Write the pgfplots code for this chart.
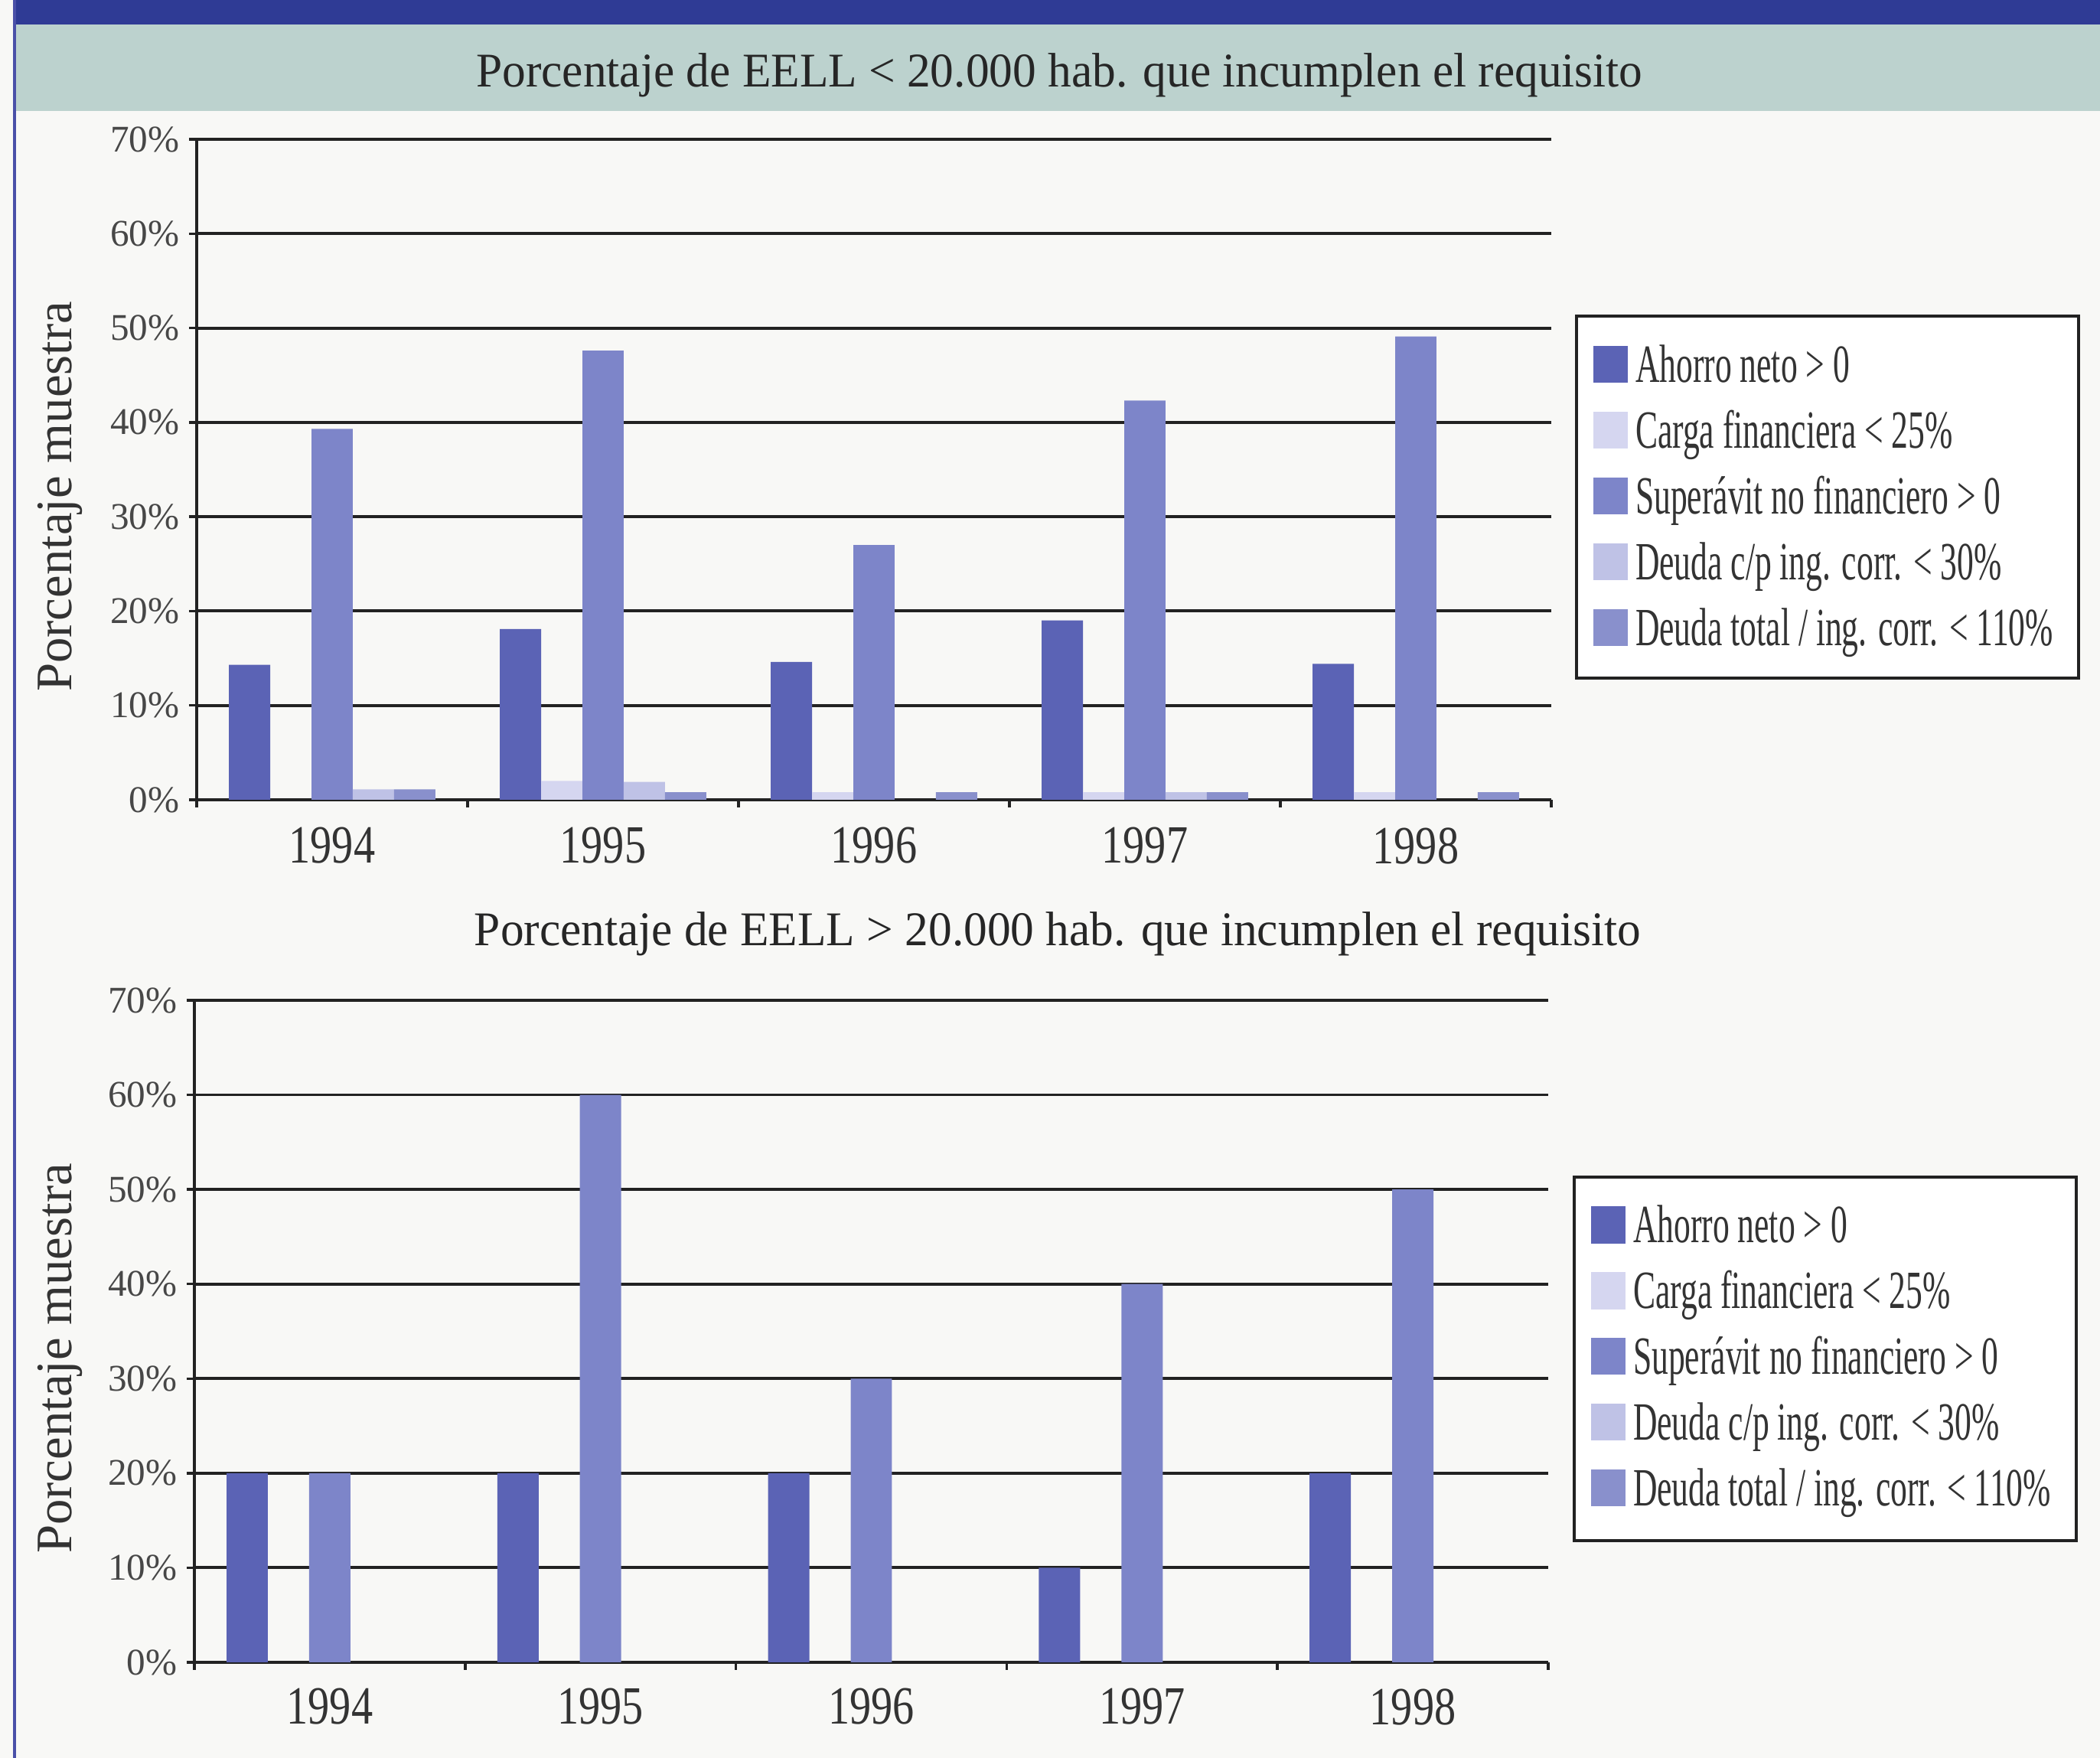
\documentclass[border=0pt]{standalone}
\usepackage{pgfplots}
\pgfplotsset{compat=1.18}
\usepackage{fontspec}
\setmainfont{Liberation Serif}
\newfontfamily\titlefont[FakeStretch=0.97]{Liberation Serif}
\newfontfamily\legfont[FakeStretch=0.62]{Liberation Serif}
\newfontfamily\yearfont[FakeStretch=0.8]{Liberation Serif}

\definecolor{pagebg}{HTML}{F8F8F6}
\definecolor{topbar}{HTML}{2F3B95}
\definecolor{tealstrip}{HTML}{BCD2CE}
\definecolor{borderblue}{HTML}{4A50A8}
\definecolor{ahorro}{HTML}{5B63B5}
\definecolor{carga}{HTML}{D5D6F0}
\definecolor{superavit}{HTML}{7D85C9}
\definecolor{deudacp}{HTML}{BFC2E6}
\definecolor{deudatot}{HTML}{8990CC}
\definecolor{gridc}{HTML}{222222}
\definecolor{textc}{HTML}{333333}

\pgfplotsset{
  leg/.style={legend image code/.code={\fill[#1] (0cm,-0.19cm) rectangle (0.44cm,0.28cm);}},
  panel/.style={
    scale only axis,
    xmin=-0.5, xmax=4.5, ymin=0, ymax=70,
    ybar, bar width=0.1525,
    axis x line*=bottom, axis y line*=left,
    axis line style={line width=1.2pt, color=gridc},
    xtick={0,1,2,3,4},
    xticklabels={1994,1995,1996,1997,1998},
    minor xtick={-0.5,0.5,1.5,2.5,3.5,4.5},
    major x tick style={draw=none},
    minor x tick style={line width=1pt, color=gridc},
    y tick style={line width=1pt, color=gridc},
    tick align=outside,
    major tick length=0.1cm, minor tick length=0.1cm,
    ytick={0,10,20,30,40,50,60,70},
    yticklabels={0\%,10\%,20\%,30\%,40\%,50\%,60\%,70\%},
    ymajorgrids,
    grid style={line width=1.1pt, color=gridc},
    xticklabel style={font=\yearfont\fontsize{20}{22}\selectfont, text=textc},
    yticklabel style={font=\fontsize{14}{16}\selectfont, text=textc!90},
    ylabel={Porcentaje muestra},
    ylabel style={font=\fontsize{19}{21}\selectfont, text=textc, anchor=center},
    title style={font=\titlefont\fontsize{18}{20}\selectfont, text=black!85, anchor=base},
    legend cell align=left,
    legend style={draw=none, fill=none, anchor=north west,
      inner xsep=0.21cm, inner ysep=0.36cm, row sep=0.24cm,
      font=\legfont\fontsize{20}{22}\selectfont, text=textc,
      nodes={inner xsep=0.1cm, inner ysep=0pt, text height=0.5cm, text depth=0.12cm}},
  }
}

\begin{document}
\begin{tikzpicture}[x=1cm,y=1cm]
\fill[pagebg] (0,0) rectangle (27.44,22.97);
\useasboundingbox (0,0) rectangle (27.44,22.97);
\fill[topbar] (0.18,22.65) rectangle (27.44,22.97);
\fill[tealstrip] (0.18,21.52) rectangle (27.44,22.65);
\fill[borderblue] (0.17,0) rectangle (0.21,22.97);
% legend frames
\filldraw[fill=white, draw=gridc, line width=1.4pt] (20.60,18.84) rectangle (27.16,14.11);
\filldraw[fill=white, draw=gridc, line width=1.4pt] (20.57,7.59) rectangle (27.13,2.84);

% ---------- top panel ----------
\begin{axis}[panel,
  at={(2.57cm,12.52cm)}, anchor=south west,
  width=17.70cm, height=8.63cm,
  title={Porcentaje de EELL < 20.000 hab. que incumplen el requisito},
  title style={at={(axis description cs:0.637,1.055)}},
  ylabel style={at={(axis description cs:-0.1006,0.459)}},
  xticklabel style={yshift=-0.14cm},
  legend style={at={(axis description cs:1.0186,0.7323)}},
]
\addplot[fill=ahorro, draw=none, bar shift=-0.305, forget plot] coordinates {(0,14.3) (1,18.1) (2,14.6) (3,19.0) (4,14.4)};
\addplot[fill=carga, draw=none, bar shift=-0.1525, forget plot] coordinates {(1,2.0) (2,0.8) (3,0.8) (4,0.8)};
\addplot[fill=superavit, draw=none, bar shift=0, forget plot] coordinates {(0,39.3) (1,47.6) (2,27.0) (3,42.3) (4,49.1)};
\addplot[fill=deudacp, draw=none, bar shift=0.1525, forget plot] coordinates {(0,1.1) (1,1.9) (3,0.8)};
\addplot[fill=deudatot, draw=none, bar shift=0.305, forget plot] coordinates {(0,1.1) (1,0.8) (2,0.8) (3,0.8) (4,0.8)};
\addlegendimage{leg=ahorro}\addlegendentry{Ahorro neto > 0}
\addlegendimage{leg=carga}\addlegendentry{Carga financiera < 25\%}
\addlegendimage{leg=superavit}\addlegendentry{Superávit no financiero > 0}
\addlegendimage{leg=deudacp}\addlegendentry{Deuda c/p ing. corr. < 30\%}
\addlegendimage{leg=deudatot}\addlegendentry{Deuda total / ing. corr. < 110\%}
\end{axis}

% ---------- bottom panel ----------
\begin{axis}[panel,
  at={(2.54cm,1.25cm)}, anchor=south west,
  width=17.69cm, height=8.65cm,
  title={Porcentaje de EELL > 20.000 hab. que incumplen el requisito},
  title style={at={(axis description cs:0.6376,1.058)}},
  ylabel style={at={(axis description cs:-0.099,0.459)}},
  xticklabel style={yshift=-0.12cm},
  legend style={at={(axis description cs:1.0192,0.734)}},
]
\addplot[fill=ahorro, draw=none, bar shift=-0.305, forget plot] coordinates {(0,20) (1,20) (2,20) (3,10) (4,20)};
\addplot[fill=superavit, draw=none, bar shift=0, forget plot] coordinates {(0,20) (1,60) (2,30) (3,40) (4,50)};
\addlegendimage{leg=ahorro}\addlegendentry{Ahorro neto > 0}
\addlegendimage{leg=carga}\addlegendentry{Carga financiera < 25\%}
\addlegendimage{leg=superavit}\addlegendentry{Superávit no financiero > 0}
\addlegendimage{leg=deudacp}\addlegendentry{Deuda c/p ing. corr. < 30\%}
\addlegendimage{leg=deudatot}\addlegendentry{Deuda total / ing. corr. < 110\%}
\end{axis}
\end{tikzpicture}
\end{document}
